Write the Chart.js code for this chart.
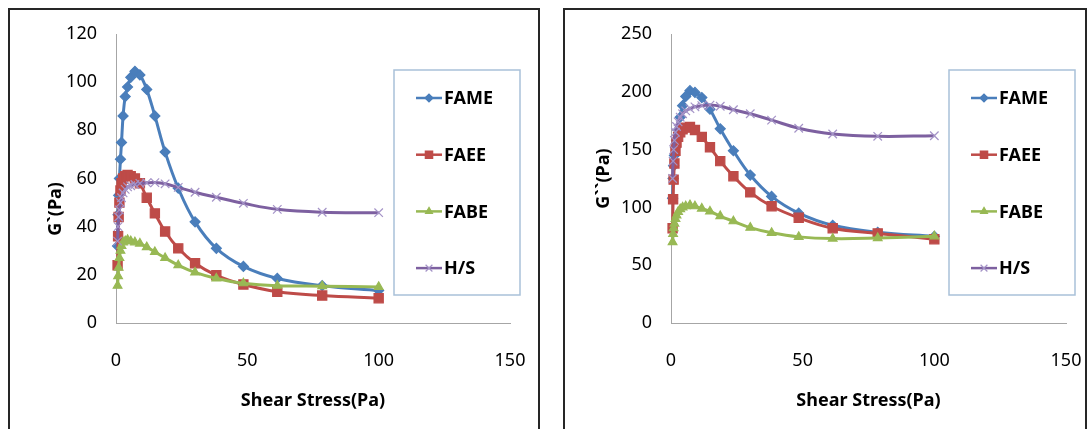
<!DOCTYPE html>
<html>
<head>
<meta charset="utf-8">
<script src="https://cdn.jsdelivr.net/npm/chart.js@4.4.0/dist/chart.umd.min.js"></script>
<style>
  html, body { margin: 0; padding: 0; background: #fff; }
  body { width: 1090px; height: 429px; position: relative; overflow: hidden; }
  .frame { position: absolute; top: 8px; height: 440px; border: 2px solid #262626; box-sizing: border-box; }
  .wrap { position: absolute; top: 10px; height: 419px; }
</style>
</head>
<body>
<div class="frame" style="left:8px;width:532px"></div>
<div class="frame" style="left:563px;width:524px"></div>
<div class="wrap" style="left:10px;width:527px"><canvas id="gPrime"></canvas></div>
<div class="wrap" style="left:565px;width:519px"><canvas id="gDouble"></canvas></div>

<script>
// shear stress steps (Pa), same for every sample
const stress = [0.6, 0.8, 1.0, 1.3, 1.7, 2.1, 2.7, 3.5, 4.4, 5.6, 7.2, 9.1, 11.7, 14.8, 18.7, 23.7, 30.1, 38.2, 48.5, 61.4, 78.5, 100];

// G' (Pa)
const gpFAME = [32, 45, 53, 60, 68, 75, 86, 94, 98, 102, 104.5, 103, 97, 86, 71, 56, 42, 31, 23.5, 18.5, 15.5, 13.5];
const gpFAEE = [24, 36, 44, 50, 55, 58, 60, 61, 61.5, 61, 60, 58, 52, 45.5, 38, 31, 24.8, 19.8, 16, 13, 11.4, 10.3];
const gpFABE = [15.5, 19.5, 23, 27, 30, 32, 33.5, 34, 34.5, 34, 33.5, 33, 31.5, 29.5, 27, 24, 21, 18.5, 16.5, 15.5, 15.3, 15];
const gpHS   = [34, 40, 44, 47, 50, 52, 54, 55.5, 56.5, 57, 57.5, 58, 58.2, 58.3, 57.8, 56.3, 54.3, 52.2, 49.7, 47.2, 46, 45.8];

// G'' (Pa)
const gdpFAME = [108, 125, 136, 145, 152, 158, 167, 178, 188, 196, 201, 199.5, 195, 185, 168, 149, 128, 109.5, 95, 84.5, 78.5, 75];
const gdpFAEE = [82, 107, 124, 138, 149, 156, 161, 165, 167.5, 169, 169.5, 167, 161, 152, 140, 127, 113, 101, 91, 82, 77.5, 72.5];
const gdpFABE = [70, 77, 82, 86, 90, 93, 96, 98.5, 100, 101, 102, 101, 99, 96.5, 92.5, 88, 82.5, 78, 74.5, 73, 73.5, 75];
const gdpHS   = [125, 140, 150, 158, 165, 170, 174, 178, 181, 183.5, 185.5, 187, 188, 188.5, 187.5, 184.5, 181, 175.5, 168.5, 163.5, 161.5, 162];

const xTicks = [0, 50, 100, 150];

Chart.defaults.font.family = '"Noto Sans", "DejaVu Sans", sans-serif';
Chart.defaults.color = '#000';

function series(label, values, color, markColor, style, radius, order) {
    return {
        label: label,
        data: stress.map((x, i) => ({x: x, y: values[i]})),
        borderColor: color,
        backgroundColor: color,
        pointBackgroundColor: markColor,
        pointBorderColor: markColor,
        pointStyle: style,
        pointRadius: radius,
        pointBorderWidth: 1.2,
        borderWidth: 3,
        tension: 0.4,
        fill: false,
        clip: false,
        order: order
    };
}

// legend drawn as a framed box over the right part of the plot
const boxLegend = {
    id: 'boxLegend',
    afterDraw(chart, args, opts) {
        const ctx = chart.ctx;
        ctx.save();
        ctx.strokeStyle = '#a9c1d9';
        ctx.lineWidth = 1.5;
        ctx.strokeRect(opts.x, opts.y, opts.w, opts.h);
        ctx.font = 'bold 18px "Noto Sans", sans-serif';
        ctx.textBaseline = 'middle';
        ctx.textAlign = 'left';
        chart.data.datasets.forEach((ds, i) => {
            const y = opts.y + 28 + i * 56.7;
            const x0 = opts.x + 22;
            ctx.strokeStyle = ds.borderColor;
            ctx.lineWidth = 2.5;
            ctx.beginPath();
            ctx.moveTo(x0, y);
            ctx.lineTo(x0 + 26, y);
            ctx.stroke();
            ctx.fillStyle = ds.pointBackgroundColor;
            ctx.strokeStyle = ds.pointBorderColor;
            ctx.lineWidth = ds.pointBorderWidth;
            Chart.helpers.drawPoint(ctx, {
                pointStyle: ds.pointStyle,
                radius: ds.pointRadius * 0.8,
                rotation: 0,
                borderWidth: ds.pointBorderWidth
            }, x0 + 13, y);
            ctx.fillStyle = '#000';
            ctx.fillText(ds.label, x0 + 28, y + 1);
        });
        ctx.restore();
    }
};

function makeChart(id, data, yMax, yStep, yTitle, titlePad, rightPad) {
    return new Chart(id, {
        type: 'line',
        data: {
            datasets: [
                series('FAME', data[0], '#4a7ebb', '#4a7ebb', 'rectRot', 5, 4),
                series('FAEE', data[1], '#be4b48', '#be4b48', 'rect', 6.5, 3),
                series('FABE', data[2], '#98b954', '#98b954', 'triangle', 5, 2),
                series('H/S', data[3], '#7d60a0', '#a493c7', 'crossRot', 6, 1)
            ]
        },
        options: {
            animation: false,
            responsive: true,
            maintainAspectRatio: false,
            devicePixelRatio: 1,
            layout: {padding: {left: 0, top: 24, right: rightPad, bottom: 0}},
            plugins: {
                legend: {display: false},
                tooltip: {enabled: false},
                boxLegend: {x: 384, y: 60, w: 126, h: 225}
            },
            scales: {
                x: {
                    type: 'linear',
                    min: 0,
                    max: 150,
                    afterBuildTicks: s => { s.ticks = xTicks.map(v => ({value: v})); },
                    // fixed axis box, plot edges come from layout.padding only
                    afterFit: s => { s.height = 106; s.paddingLeft = 0; s.paddingRight = 0; },
                    grid: {display: false, drawTicks: false},
                    border: {color: '#a6a6a6', width: 1},
                    ticks: {font: {size: 18}, padding: 27, maxRotation: 0},
                    title: {display: true, text: 'Shear Stress(Pa)', font: {size: 18, weight: 'bold'}, padding: {bottom: 17}}
                },
                y: {
                    min: 0,
                    max: yMax,
                    afterFit: s => { s.width = 106; s.paddingTop = 0; s.paddingBottom = 0; },
                    grid: {display: false, drawTicks: false},
                    border: {color: '#a6a6a6', width: 1},
                    ticks: {stepSize: yStep, font: {size: 18}, padding: 19},
                    title: {display: true, text: yTitle, font: {size: 18, weight: 'bold'}, padding: {top: titlePad}}
                }
            }
        },
        plugins: [boxLegend]
    });
}

makeChart('gPrime', [gpFAME, gpFAEE, gpFABE, gpHS], 120, 20, 'G`(Pa)             ', 35, 27);
makeChart('gDouble', [gdpFAME, gdpFAEE, gdpFABE, gdpHS], 250, 50, 'G``(Pa)', 28, 18);
</script>
</body>
</html>
